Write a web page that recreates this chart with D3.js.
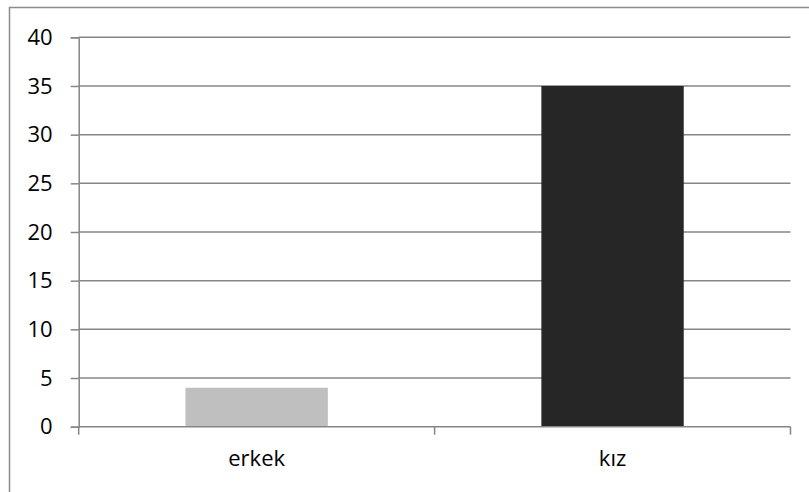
<!DOCTYPE html>
<html><head><meta charset="utf-8">
<script src="https://cdn.jsdelivr.net/npm/d3@7"></script>
<style>body{margin:0;background:#fff}svg{display:block}text{font-family:"Open Sans",sans-serif;fill:#000}</style>
</head><body>
<svg id="c" width="809" height="492"></svg>
<script>
const categories = ["erkek", "kız"];
const values = [4, 35];
const yTicks = [0, 5, 10, 15, 20, 25, 30, 35, 40];
const barColors = ["#bfbfbf", "#262626"];

(function () {
const svg = d3.select("#c");
svg.append("rect").attr("x", 9.5).attr("y", 7.5).attr("width", 830).attr("height", 520)
  .attr("fill", "none").attr("stroke", "#8c8c8c").attr("stroke-width", 1.5);

const mLeft = 78.7, mRight = 790.5, mTop = 37.3, mBottom = 426.7;
const x = d3.scaleBand().domain(categories).range([mLeft, mRight]).padding(0);
const y = d3.scaleLinear().domain([0, 40]).range([mBottom, mTop]);
const grid = "#868686";

svg.append("g").selectAll("line").data(yTicks.filter(d => d > 0)).join("line")
  .attr("x1", mLeft).attr("x2", mRight).attr("y1", d => y(d)).attr("y2", d => y(d))
  .attr("stroke", grid).attr("stroke-width", 1.5);

const bw = x.bandwidth() * 0.4;
svg.append("g").selectAll("rect").data(categories).join("rect")
  .attr("x", d => x(d) + (x.bandwidth() - bw) / 2)
  .attr("width", bw)
  .attr("y", (d, i) => y(values[i]))
  .attr("height", (d, i) => y(0) - y(values[i]))
  .attr("fill", (d, i) => barColors[i]);

const yAxis = d3.axisLeft(y).tickValues(yTicks).tickSize(8).tickPadding(18);
const gy = svg.append("g").attr("transform", `translate(${mLeft},0)`).call(yAxis);
gy.select(".domain").attr("stroke", grid).attr("stroke-width", 1.5);
gy.selectAll(".tick line").attr("stroke", grid).attr("stroke-width", 1.5);
gy.selectAll("text").attr("font-size", 22).attr("fill", "#000").attr("font-family", "Open Sans");

const xAxis = d3.axisBottom(x).tickSize(0).tickPadding(24);
const gx = svg.append("g").attr("transform", `translate(0,${mBottom})`).call(xAxis);
gx.select(".domain").remove();
gx.append("line").attr("x1", mLeft).attr("x2", mRight).attr("stroke", grid).attr("stroke-width", 1.5);
const bounds = [mLeft].concat(categories.map(c => x(c) + x.bandwidth()));
gx.selectAll(".bt").data(bounds).join("line").attr("class", "bt")
  .attr("x1", d => d).attr("x2", d => d).attr("y1", 0).attr("y2", 8)
  .attr("stroke", grid).attr("stroke-width", 1.5);
gx.selectAll(".tick text").attr("font-size", 22).attr("fill", "#000").attr("font-family", "Open Sans");
})();
</script>
</body></html>
